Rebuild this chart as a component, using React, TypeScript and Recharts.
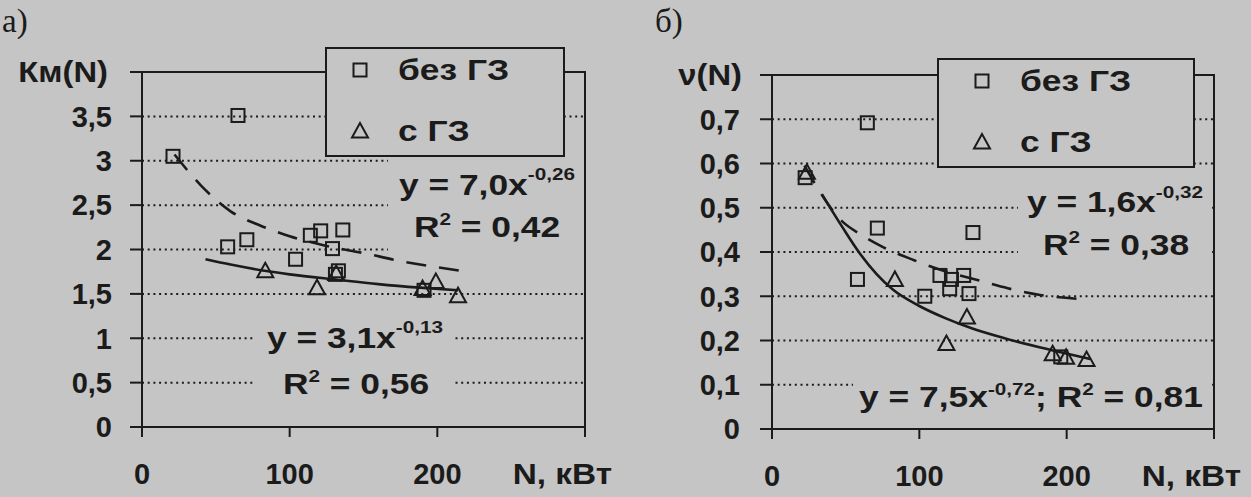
import React from "react";
import {
  ComposedChart,
  Scatter,
  Line,
  XAxis,
  YAxis,
  CartesianGrid,
  Legend,
  ReferenceArea,
} from "recharts";

const BG = "#c5c5c5";
const INK = "#1b1b1b";
const FONT = "'Liberation Sans', Arial, sans-serif";

// а) Км(N)
const kmBezGz = [
  { x: 21, y: 3.05 },
  { x: 58, y: 2.03 },
  { x: 65, y: 3.51 },
  { x: 71, y: 2.11 },
  { x: 104, y: 1.89 },
  { x: 114, y: 2.16 },
  { x: 121, y: 2.21 },
  { x: 129, y: 2.01 },
  { x: 131, y: 1.72 },
  { x: 133, y: 1.76 },
  { x: 136, y: 2.22 },
  { x: 191, y: 1.54 },
];
const kmSGz = [
  { x: 83.5, y: 1.76 },
  { x: 118.5, y: 1.57 },
  { x: 131.5, y: 1.73 },
  { x: 190, y: 1.56 },
  { x: 199, y: 1.64 },
  { x: 214, y: 1.48 },
];
const kmTrendBezGz = [
  { x: 22, y: 3.07 },
  { x: 40, y: 2.72 },
  { x: 60, y: 2.43 },
  { x: 80, y: 2.27 },
  { x: 100, y: 2.15 },
  { x: 125, y: 2.04 },
  { x: 150, y: 1.96 },
  { x: 175, y: 1.87 },
  { x: 200, y: 1.8 },
  { x: 216, y: 1.76 },
];
const kmTrendSGz = [
  { x: 43, y: 1.89 },
  { x: 60, y: 1.83 },
  { x: 83, y: 1.76 },
  { x: 100, y: 1.72 },
  { x: 132, y: 1.66 },
  { x: 160, y: 1.61 },
  { x: 188, y: 1.57 },
  { x: 214, y: 1.54 },
];
const kmTicks = [0, 0.5, 1, 1.5, 2, 2.5, 3, 3.5, 4];

// б) ν(N)
const nuBezGz = [
  { x: 22.5, y: 0.568 },
  { x: 58, y: 0.338 },
  { x: 64.7, y: 0.692 },
  { x: 71.5, y: 0.454 },
  { x: 103.7, y: 0.3 },
  { x: 114, y: 0.347 },
  { x: 120.6, y: 0.317 },
  { x: 121.8, y: 0.338 },
  { x: 130.1, y: 0.347 },
  { x: 133.7, y: 0.306 },
  { x: 136.4, y: 0.444 },
  { x: 196, y: 0.163 },
];
const nuSGz = [
  { x: 23.7, y: 0.58 },
  { x: 83.4, y: 0.338 },
  { x: 118.4, y: 0.193 },
  { x: 132.3, y: 0.253 },
  { x: 190.5, y: 0.17 },
  { x: 199.6, y: 0.162 },
  { x: 213.5, y: 0.157 },
];
const nuTrendBezGz = [
  { x: 22, y: 0.595 },
  { x: 48, y: 0.468 },
  { x: 60, y: 0.44 },
  { x: 76, y: 0.41 },
  { x: 96, y: 0.382 },
  { x: 118, y: 0.356 },
  { x: 140, y: 0.336 },
  { x: 160, y: 0.318 },
  { x: 182, y: 0.303 },
  { x: 213, y: 0.293 },
];
const nuTrendSGz = [
  { x: 34, y: 0.53 },
  { x: 48, y: 0.455 },
  { x: 60, y: 0.395 },
  { x: 71, y: 0.35 },
  { x: 82, y: 0.315 },
  { x: 100, y: 0.278 },
  { x: 118, y: 0.25 },
  { x: 136, y: 0.227 },
  { x: 159, y: 0.204 },
  { x: 190, y: 0.178 },
  { x: 216, y: 0.158 },
];
const nuTicks = [0, 0.1, 0.2, 0.3, 0.4, 0.5, 0.6, 0.7, 0.8];

const xTicks = [0, 100, 200, 300];
const xTitle = "N, кВт";
const seriesNames = ["без ГЗ", "с ГЗ"];

function SquareDot({ cx, cy }: any) {
  if (cx == null || cy == null) return null;
  return (
    <rect x={cx - 6.5} y={cy - 6.5} width={13} height={13} fill="none" stroke={INK} strokeWidth={2} />
  );
}

function TriangleDot({ cx, cy }: any) {
  if (cx == null || cy == null) return null;
  return (
    <polygon
      points={`${cx},${cy - 8} ${cx - 8},${cy + 6.5} ${cx + 8},${cy + 6.5}`}
      fill="none"
      stroke={INK}
      strokeWidth={2}
    />
  );
}

function LegendBox({ payload, iconX, textX }: any) {
  const rows = [21, 82];
  const items = (payload || []).filter((p: any) => seriesNames.includes(p.value));
  return (
    <div
      style={{
        position: "relative",
        width: "100%",
        height: "100%",
        boxSizing: "border-box",
        border: `2px solid ${INK}`,
        background: BG,
      }}
    >
      {items.map((p: any, i: number) => (
        <React.Fragment key={p.value}>
          <svg style={{ position: "absolute", left: iconX - 12, top: rows[i] - 10 }} width={20} height={20}>
            {p.value === seriesNames[0] ? <SquareDot cx={10} cy={10} /> : <TriangleDot cx={10} cy={10} />}
          </svg>
          <span
            style={{
              position: "absolute",
              left: textX - 2,
              top: rows[i],
              transform: "translateY(-50%) scaleX(1.22)",
              transformOrigin: "left center",
              font: `700 29px ${FONT}`,
              lineHeight: 1,
              color: INK,
              whiteSpace: "nowrap",
            }}
          >
            {p.value}
          </span>
        </React.Fragment>
      ))}
    </div>
  );
}

function XTick({ x, y, payload }: any) {
  const last = payload.value === xTicks[xTicks.length - 1];
  if (last) {
    return (
      <g transform={`translate(${x + 27},${y}) scale(1.15,1)`}>
        <text x={0} y={0} dy="0.71em" textAnchor="end" fontFamily={FONT} fontSize={29} fontWeight={700} fill={INK}>
          {xTitle}
        </text>
      </g>
    );
  }
  return (
    <text x={x} y={y} dy="0.71em" textAnchor="middle" fontFamily={FONT} fontSize={29} fontWeight={700} fill={INK}>
      {payload.value}
    </text>
  );
}

function Panel({
  width,
  yMax,
  yTicks,
  yAxisWidth,
  tickMargin,
  margin,
  bez,
  sgz,
  trendBez,
  trendSgz,
  legendPos,
}: any) {
  const fmt = (v: number) => (v === yMax ? "" : String(v).replace(".", ","));
  const axisStyle = { stroke: INK, strokeWidth: 2 };
  return (
    <ComposedChart width={width} height={497} margin={margin}>
      <CartesianGrid
        vertical={false}
        stroke={INK}
        strokeWidth={2}
        strokeDasharray="2 3.7"
      />
      <ReferenceArea
        x1={0}
        x2={300}
        y1={0}
        y2={yMax}
        fill="none"
        stroke={INK}
        strokeWidth={2}
      />
      <XAxis
        dataKey="x"
        type="number"
        domain={[0, 300]}
        ticks={xTicks}
        interval={0}
        height={60}
        tickSize={10}
        tickMargin={26}
        axisLine={axisStyle}
        tickLine={axisStyle}
        tick={<XTick />}
      />
      <YAxis
        dataKey="y"
        type="number"
        domain={[0, yMax]}
        ticks={yTicks}
        interval={0}
        width={yAxisWidth}
        tickSize={12}
        tickMargin={tickMargin}
        tickFormatter={fmt}
        axisLine={axisStyle}
        tickLine={axisStyle}
        tick={{ fontFamily: FONT, fontSize: 29, fontWeight: 700, fill: INK }}
      />
      <Legend
        layout="vertical"
        align="center"
        verticalAlign="middle"
        width={legendPos.w}
        height={110}
        wrapperStyle={{ left: legendPos.left, top: legendPos.top }}
        content={(props: any) => <LegendBox {...props} iconX={legendPos.iconX} textX={legendPos.textX} />}
      />
      <Line
        data={trendBez}
        dataKey="y"
        type="monotone"
        stroke={INK}
        strokeWidth={2.6}
        strokeDasharray="20 13"
        dot={false}
        activeDot={false}
        legendType="none"
        isAnimationActive={false}
      />
      <Line
        data={trendSgz}
        dataKey="y"
        type="monotone"
        stroke={INK}
        strokeWidth={2.6}
        dot={false}
        activeDot={false}
        legendType="none"
        isAnimationActive={false}
      />
      <Scatter name={seriesNames[0]} data={bez} dataKey="y" shape={SquareDot} isAnimationActive={false} />
      <Scatter name={seriesNames[1]} data={sgz} dataKey="y" shape={TriangleDot} isAnimationActive={false} />
    </ComposedChart>
  );
}

function Eq({ cx, y, parts }: { cx: number; y: number; parts: [string, number?][] }) {
  let shift = 0;
  return (
    <g transform={`translate(${cx},${y}) scale(1.22,1)`}>
      <text x={0} y={0} textAnchor="middle" fontFamily={FONT} fontSize={29} fontWeight={700} fill={INK}>
        {parts.map(([t, sup], i) => {
          const target = sup ? -sup : 0;
          const dy = target - shift;
          shift = target;
          return (
            <tspan key={i} dy={dy} fontSize={sup ? 17 : 29}>
              {t}
            </tspan>
          );
        })}
      </text>
    </g>
  );
}

function Overlay() {
  const boxes = [
    [388, 158, 195, 96],
    [253, 305, 200, 100],
    [1018, 175, 194, 95],
    [853, 368, 359, 56],
  ];
  return (
    <svg
      width={1251}
      height={497}
      style={{ position: "absolute", left: 0, top: 0, pointerEvents: "none" }}
    >
      {boxes.map(([x, y, w, h], i) => (
        <rect key={i} x={x} y={y} width={w} height={h} fill={BG} />
      ))}
      <Eq cx={487} y={195} parts={[["y = 7,0x"], ["-0,26", 15]]} />
      <Eq cx={487} y={237} parts={[["R"], ["2", 12], [" = 0,42"]]} />
      <Eq cx={355} y={348} parts={[["y = 3,1x"], ["-0,13", 15]]} />
      <Eq cx={356} y={394} parts={[["R"], ["2", 12], [" = 0,56"]]} />
      <Eq cx={1115} y={212} parts={[["y = 1,6x"], ["-0,32", 14]]} />
      <Eq cx={1116} y={255} parts={[["R"], ["2", 12], [" = 0,38"]]} />
      <Eq
        cx={1031}
        y={407}
        parts={[["y = 7,5x"], ["-0,72", 12], ["; R"], ["2", 12], [" = 0,81"]]}
      />
      <g transform="translate(108,82) scale(1.13,1)">
        <text textAnchor="end" fontFamily={FONT} fontSize={29} fontWeight={700} fill={INK}>
          Км(N)
        </text>
      </g>
      <g transform="translate(742,85) scale(1.13,1)">
        <text textAnchor="end" fontFamily={FONT} fontSize={29} fontWeight={700} fill={INK}>
          ν(N)
        </text>
      </g>
      <text x={2} y={32} fontFamily="'Liberation Serif', serif" fontSize={33} fill={INK}>
        а)
      </text>
      <text x={655} y={32} fontFamily="'Liberation Serif', serif" fontSize={33} fill={INK}>
        б)
      </text>
    </svg>
  );
}

export default function App() {
  return (
    <div
      style={{
        position: "absolute",
        left: 0,
        top: 0,
        width: 1251,
        height: 497,
        background: BG,
        overflow: "hidden",
      }}
    >
      <div style={{ position: "absolute", left: 0, top: 0 }}>
        <Panel
          width={620}
          yMax={4}
          yTicks={kmTicks}
          yAxisWidth={142}
          tickMargin={18}
          margin={{ top: 72, right: 35, bottom: 10, left: 0 }}
          bez={kmBezGz}
          sgz={kmSGz}
          trendBez={kmTrendBezGz}
          trendSgz={kmTrendSGz}
          legendPos={{ left: 325, top: 47, w: 240, iconX: 35, textX: 73 }}
        />
      </div>
      <div style={{ position: "absolute", left: 620, top: 0 }}>
        <Panel
          width={631}
          yMax={0.8}
          yTicks={nuTicks}
          yAxisWidth={152}
          tickMargin={20}
          margin={{ top: 75, right: 37, bottom: 8, left: 0 }}
          bez={nuBezGz}
          sgz={nuSGz}
          trendBez={nuTrendBezGz}
          trendSgz={nuTrendSGz}
          legendPos={{ left: 317, top: 58, w: 258, iconX: 45, textX: 83 }}
        />
      </div>
      <Overlay />
    </div>
  );
}
